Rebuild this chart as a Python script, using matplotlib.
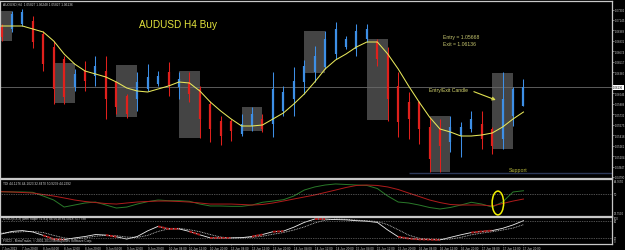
import matplotlib.pyplot as plt
from matplotlib.patches import Rectangle, Ellipse
import numpy as np

plt.rcParams['font.family'] = ['Liberation Sans', 'DejaVu Sans']

W, H = 625, 251

# AUDUSD H4 candles
opens = [1.07040, 1.07010, 1.07085, 1.07130, 1.06935, 1.06740, 1.06560, 1.06140, 1.06380, 1.06305,
         1.06380, 1.06215, 1.06005, 1.05960, 1.06110, 1.06185, 1.06365, 1.06140, 1.06215, 1.06110,
         1.05885, 1.05630, 1.05630, 1.05435, 1.05555, 1.05660, 1.05585, 1.05780, 1.05960, 1.06215,
         1.06365, 1.06440, 1.06635, 1.06740, 1.06710, 1.06860, 1.06830, 1.06635, 1.06155, 1.05915,
         1.05915, 1.05540, 1.05510, 1.05315, 1.05405, 1.05510, 1.05585, 1.05510, 1.05360, 1.05705,
         1.05855]
highs = [1.07085, 1.07280, 1.07310, 1.07205, 1.06980, 1.06830, 1.06605, 1.06410, 1.06530, 1.06605,
         1.06605, 1.06230, 1.06035, 1.06365, 1.06485, 1.06380, 1.06515, 1.06365, 1.06365, 1.06155,
         1.05930, 1.05705, 1.05660, 1.05735, 1.05840, 1.05735, 1.06365, 1.06155, 1.06440, 1.06545,
         1.06755, 1.06980, 1.07115, 1.06905, 1.07085, 1.07085, 1.06860, 1.06740, 1.06365, 1.06065,
         1.05930, 1.05690, 1.05660, 1.05705, 1.05615, 1.05780, 1.05780, 1.05540, 1.06365, 1.06140,
         1.06260]
lows = [1.06830, 1.06965, 1.07055, 1.06725, 1.06380, 1.05885, 1.05885, 1.06080, 1.06080, 1.06155,
        1.05660, 1.05735, 1.05675, 1.05780, 1.06080, 1.06155, 1.06005, 1.05960, 1.05915, 1.05375,
        1.05315, 1.05270, 1.05330, 1.05405, 1.05480, 1.05465, 1.05390, 1.05705, 1.05705, 1.06035,
        1.06215, 1.06410, 1.06560, 1.06710, 1.06605, 1.06815, 1.06455, 1.05630, 1.05390, 1.05360,
        1.05285, 1.04865, 1.04865, 1.05165, 1.05090, 1.05465, 1.05210, 1.05135, 1.05210, 1.05555,
        1.05855]
closes = [1.06890, 1.07235, 1.07265, 1.06815, 1.06485, 1.06110, 1.05990, 1.06335, 1.06230, 1.06455,
          1.05960, 1.05840, 1.05735, 1.06215, 1.06290, 1.06305, 1.06155, 1.06260, 1.06035, 1.05660,
          1.05510, 1.05405, 1.05480, 1.05585, 1.05735, 1.05510, 1.06110, 1.06065, 1.06230, 1.06455,
          1.06605, 1.06860, 1.07010, 1.06860, 1.06980, 1.07010, 1.06560, 1.05960, 1.05615, 1.05660,
          1.05510, 1.05060, 1.05255, 1.05540, 1.05540, 1.05660, 1.05360, 1.05255, 1.05960, 1.06110,
          1.06140]
ma = [1.07055, 1.07055, 1.07055, 1.07010, 1.06965, 1.06830, 1.06635, 1.06485, 1.06380, 1.06335,
      1.06290, 1.06215, 1.06125, 1.06080, 1.06065, 1.06110, 1.06155, 1.06215, 1.06200, 1.06080,
      1.05915, 1.05780, 1.05660, 1.05555, 1.05555, 1.05570, 1.05660, 1.05750, 1.05885, 1.06035,
      1.06215, 1.06410, 1.06545, 1.06635, 1.06740, 1.06815, 1.06815, 1.06635, 1.06410, 1.06155,
      1.05915, 1.05690, 1.05510, 1.05465, 1.05405, 1.05405, 1.05420, 1.05450, 1.05540, 1.05660,
      1.05765]

# grey session boxes (two candles wide)
box_start = [-1, 5, 11, 17, 23, 29, 35, 41, 47]
box_top = [1.07280, 1.06500, 1.06470, 1.06380, 1.05840, 1.06980, 1.06860, 1.05705, 1.06350]
box_bottom = [1.06830, 1.05900, 1.05690, 1.05375, 1.05480, 1.06350, 1.05645, 1.04865, 1.05210]

support = 1.04845
support_start = 39
last_price = 1.06136

# TDI panel
tdi_green = [52.6, 52.3, 52.3, 51.9, 47.7, 43.2, 35.2, 37.5, 39.8, 40.9, 37.5, 34.1, 35.2, 38.6,
             41.3, 43.2, 42.4, 42.4, 41.7, 38.6, 36.4, 36.4, 36.0, 36.0, 37.5, 40.6, 42.0, 43.5,
             47.7, 54.5, 58.0, 60.2, 61.4, 60.8, 60.2, 59.7, 56.2, 47.7, 40.9, 39.8, 37.5, 34.7,
             33.0, 34.7, 37.5, 40.6, 38.6, 35.2, 40.9, 52.3, 53.7]
tdi_red = [52.6, 52.3, 51.7, 51.1, 49.4, 47.7, 45.5, 43.2, 41.5, 40.3, 39.2, 38.6, 39.8, 40.9,
           41.5, 42.0, 42.0, 41.5, 40.9, 39.8, 38.6, 38.6, 38.6, 38.1, 37.5, 38.1, 39.8, 42.0,
           44.3, 46.6, 48.9, 51.7, 54.5, 57.4, 59.7, 60.2, 59.7, 58.0, 55.1, 51.1, 47.2, 43.2,
           40.3, 38.1, 37.5, 37.5, 37.5, 36.4, 39.2, 42.0, 44.3]

# DSS panel
dss_main = [34, 43, 46, 41, 29, 16, 14, 20, 25, 32, 30, 24, 16, 25, 45, 61, 52, 52, 43, 31,
            20, 20, 20, 21, 25, 32, 42, 44, 58, 75, 87, 87, 85, 84, 81, 79, 75, 48, 24, 18,
            15, 14, 13, 22, 31, 39, 43, 46, 54, 66, 81]
dss_signal = [37, 39, 42, 43, 39, 29, 20, 16, 20, 26, 29, 28, 23, 22, 29, 43, 52, 54, 49, 42,
              32, 23, 20, 20, 22, 26, 33, 39, 48, 59, 73, 83, 87, 86, 83, 81, 78, 67, 49, 30,
              19, 15, 14, 16, 22, 31, 37, 42, 48, 55, 67]
dss_red = [(4, 6), (10, 11), (15, 17), (18, 19), (20, 22), (24, 25), (26, 27), (30, 31),
           (38, 42), (45, 47)]

date_labels = ['7 Jun 2013', '7 Jun 20:00', '8 Jun 04:00', '8 Jun 12:00', '8 Jun 20:00',
               '9 Jun 04:00', '9 Jun 12:00', '9 Jun 20:00', '10 Jun 04:00', '10 Jun 12:00',
               '10 Jun 20:00', '13 Jun 04:00', '13 Jun 12:00', '13 Jun 20:00', '14 Jun 04:00',
               '14 Jun 12:00', '14 Jun 20:00', '15 Jun 04:00', '15 Jun 12:00', '15 Jun 20:00',
               '16 Jun 04:00', '16 Jun 12:00', '16 Jun 20:00', '17 Jun 04:00', '17 Jun 12:00',
               '17 Jun 20:00']

BLUE = '#3d8fe6'
RED = '#e0201c'
TXT = '#d0d0d0'


def rect(x0, y0, x1, y1):
    return [x0 / W, 1 - y1 / H, (x1 - x0) / W, (y1 - y0) / H]


def ftext(x, y, s, **kw):
    fig.text(x / W, 1 - y / H, s, **kw)


fig = plt.figure(figsize=(6.25, 2.51), dpi=100, facecolor='black')
ax = fig.add_axes(rect(0, 1.5, 612, 179))
ax1 = fig.add_axes(rect(0, 179.5, 612, 216.5), sharex=ax)
ax2 = fig.add_axes(rect(0, 217.5, 612, 245), sharex=ax)

n = len(closes)
x = np.arange(n)
xlim = (-0.144, 58.48)

for a in (ax, ax1, ax2):
    a.set_facecolor('black')
    for s in a.spines.values():
        s.set_color('#c8c8c8')
        s.set_linewidth(0.9)
    a.yaxis.tick_right()
    a.tick_params(axis='y', colors=TXT, labelsize=2.0, length=1.5, width=0.4, pad=0.8)
    a.tick_params(axis='x', length=0, labelbottom=False)

# main chart
for s0, t, b in zip(box_start, box_top, box_bottom):
    ax.add_patch(Rectangle((s0, b), 2, t - b, color='#444444', lw=0, zorder=1))

ax.axhline(last_price, color='#6a6a6a', lw=0.6, zorder=1.5)
ax.hlines(support, support_start, xlim[1], color='#2c3858', lw=1.0, zorder=1.5)

o, h, l, c = map(np.array, (opens, highs, lows, closes))
col = np.where(c >= o, BLUE, RED)
ax.vlines(x, l, h, colors=col, lw=0.75, zorder=3)
ax.vlines(x, np.minimum(o, c), np.maximum(o, c), colors=col, lw=1.6, zorder=3)
ax.plot(x, ma, color='#e8e85a', lw=0.75, zorder=4)

ax.set_xlim(*xlim)
ax.set_ylim(1.04775, 1.074375)
ticks = [1.04790 + k * 0.00157 for k in range(17) if k != 9]
ax.set_yticks(ticks)
ax.set_yticklabels(['%.5f' % v for v in ticks])
ax.text(1.002, last_price, '%.5f' % last_price, transform=ax.get_yaxis_transform(),
        fontsize=2.0, color='black', va='center', ha='left', clip_on=False,
        bbox=dict(facecolor='white', edgecolor='none', pad=0.5))

ax.annotate('', xy=(47.6, 1.05930), xytext=(45.0, 1.06085),
            arrowprops=dict(arrowstyle='->', color='#e0e050', lw=0.8, mutation_scale=5))

# TDI panel
ax1.plot(x, tdi_green, color='#2a7a2a', lw=0.7)
ax1.plot(x, tdi_red, color='#b01c1c', lw=0.7)
ax1.axhline(50, color='#9a9a9a', lw=0.5, ls=(0, (1, 1.5)))
ax1.add_patch(Ellipse((47.55, 39.8), 1.1, 27, fill=False, ec='#f0f000', lw=1.1, zorder=5))
ax1.set_ylim(25.6, 67.6)
ax1.set_yticks([])

# DSS panel
ax2.plot(x, dss_signal, color='#d8d8d8', lw=0.6, ls=(0, (1, 1)))
ax2.plot(x, dss_main, color='#f0f0f0', lw=0.6)
for s0, s1 in dss_red:
    ax2.plot(x[s0:s1 + 1], dss_main[s0:s1 + 1], color='#a81414', lw=1.4, ls=(0, (1.5, 0.6)))
for lvl in (80, 20):
    ax2.axhline(lvl, color='#9a9a9a', lw=0.5, ls=(0, (1, 1.5)))
ax2.set_ylim(-1.5, 95.9)
ax2.set_yticks([])
ax2.set_xticks(np.arange(0, n, 2))
ax2.set_xticklabels(date_labels)
ax2.tick_params(axis='x', labelbottom=True, colors=TXT, labelsize=2.2, length=1.0,
                width=0.4, pad=0.3)
for lab in ax2.get_xticklabels():
    lab.set_ha('left')

# texts
ftext(178, 25, 'AUDUSD H4 Buy', fontsize=7.2, color='#e4e43c', ha='center', va='center')
ftext(443, 37, 'Entry = 1.05668', fontsize=3.7, color='#c8c870', va='center')
ftext(443, 44, 'Exit = 1.06136', fontsize=3.7, color='#c8c870', va='center')
ftext(429, 90.5, 'Entry/Exit Candle', fontsize=3.6, color='#d8d870', va='center')
ftext(518, 171, 'Support', fontsize=3.8, color='#b8b83a', ha='center', va='center')
ftext(3, 4.5, 'AUDUSD,H4  1.05827 1.06248 1.05827 1.06136', fontsize=2.3, color=TXT, va='center')
ftext(3, 184, 'TDI 44.1276 44.1023 32.8470 50.9239 44.2292', fontsize=2.3, color=TXT, va='center')
ftext(3, 219.5, 'DSsO(5,3,3) (with Slope =1.81) 84.5018 84.5018 71.7798', fontsize=2.3,
      color=TXT, va='center')
ftext(3, 241, 'FXDD - MetaTrader, \u00a9 2001-2013 MetaQuotes Software Corp.', fontsize=2.3,
      color=TXT, va='center')
for yy, s in [(182, '64.7650'), (195, '50'), (214, '28.7500'),
              (218.7, '100'), (222, '80'), (239, '20'), (242, '0')]:
    ftext(614, yy, s, fontsize=2.0, color=TXT, va='center')

fig.savefig('out.png', dpi=100, facecolor='black')
